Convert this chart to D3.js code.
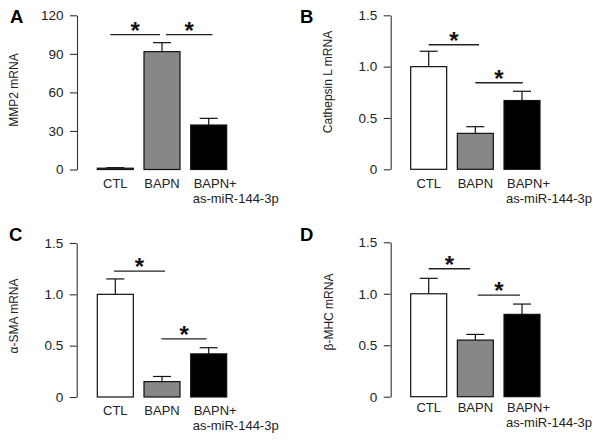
<!DOCTYPE html>
<html><head><meta charset="utf-8">
<script src="https://cdn.jsdelivr.net/npm/d3@7"></script>
<style>body{margin:0;background:#fff} svg{display:block} text{font-family:"Liberation Sans",Arial,sans-serif}</style>
</head><body><svg id="c" width="600" height="443"></svg>
<script>
const categories = ["CTL", "BAPN", "BAPN+"];
const categorySubLabels = ["", "", "as-miR-144-3p"];
const barFills = ["#ffffff", "#878787", "#000000"];

const mmp2Mean = [1.0, 91.7, 34.6];
const mmp2Err = [0.4, 7.0, 5.2];
const cathepsinMean = [1.0, 0.35, 0.67];
const cathepsinErr = [0.15, 0.065, 0.09];
const smaMean = [1.0, 0.15, 0.42];
const smaErr = [0.15, 0.05, 0.06];
const mhcMean = [1.0, 0.55, 0.80];
const mhcErr = [0.15, 0.055, 0.10];

const mmp2Ticks = [0, 30, 60, 90, 120];
const mmp2TickLabels = ["0", "30", "60", "90", "120"];
const ratioTicks = [0, 0.5, 1.0, 1.5];
const ratioTickLabels = ["0", "0.5", "1.0", "1.5"];

// significance brackets: [from category, to category, level]
const mmp2Sig = [[0, 1, 105], [1, 2, 105]];
const cathepsinSig = [[0, 1, 1.213], [1, 2, 0.843]];
const smaSig = [[0, 1, 1.226], [1, 2, 0.566]];
const mhcSig = [[0, 1, 1.243], [1, 2, 0.987]];

const panels = [
  {letter: "A", ylabel: "MMP2 mRNA", mean: mmp2Mean, err: mmp2Err, ticks: mmp2Ticks, tickLabels: mmp2TickLabels, sig: mmp2Sig,
   lx: 10, ly: 23, axisX: 77, y0: 169.5, y1: 15.3, barL: 97.3, barR: 226.7, ylabX: 18, ylabY: 90, xlabY: 188, sigOff: [[-5, -2], [4, 3.7]]},
  {letter: "B", ylabel: "Cathepsin L mRNA", mean: cathepsinMean, err: cathepsinErr, ticks: ratioTicks, tickLabels: ratioTickLabels, sig: cathepsinSig,
   lx: 300, ly: 23, axisX: 390.7, y0: 169.3, y1: 15.3, barL: 410.7, barR: 540, ylabX: 332, ylabY: 82, xlabY: 187.5, sigOff: [[0, 3.7], [0, 0.7]]},
  {letter: "C", ylabel: "\u03b1-SMA mRNA", mean: smaMean, err: smaErr, ticks: ratioTicks, tickLabels: ratioTickLabels, sig: smaSig,
   lx: 9, ly: 241, axisX: 76.7, y0: 397, y1: 243, barL: 97.3, barR: 226.7, ylabX: 18, ylabY: 316, xlabY: 414.5, sigOff: [[-1.3, 3], [-0.6, -2]]},
  {letter: "D", ylabel: "\u03b2-MHC mRNA", mean: mhcMean, err: mhcErr, ticks: ratioTicks, tickLabels: ratioTickLabels, sig: mhcSig,
   lx: 300, ly: 241, axisX: 390.7, y0: 396.7, y1: 242.3, barL: 410.7, barR: 540, ylabX: 333, ylabY: 312, xlabY: 412, sigOff: [[0, -5.3], [2.4, -2]]}
];

const svg = d3.select("#c");

panels.forEach(p => {
  const g = svg.append("g");
  const top = p.ticks[p.ticks.length - 1];
  const y = d3.scaleLinear().domain([0, top]).range([p.y0, p.y1]);
  const x = d3.scaleBand().domain(categories).range([p.barL, p.barR]).paddingInner(0.229).paddingOuter(0);
  const bw = x.bandwidth();

  // panel letter
  g.append("text").attr("x", p.lx).attr("y", p.ly).attr("font-size", 18.5).attr("font-weight", "bold").attr("fill", "#000").text(p.letter);

  // y axis
  const ax = g.append("g").attr("transform", `translate(${p.axisX},0)`)
    .call(d3.axisLeft(y).tickValues(p.ticks).tickFormat((d, i) => p.tickLabels[i]).tickSize(7).tickSizeOuter(0).tickPadding(6.5));
  ax.select(".domain").attr("stroke", "#333").attr("stroke-width", 1.1);
  ax.selectAll(".tick line").attr("stroke", "#333").attr("stroke-width", 1.1);
  ax.selectAll(".tick text").attr("font-size", 13.5).attr("fill", "#222").attr("font-family", "Liberation Sans, Arial, sans-serif");

  // y label
  g.append("text").attr("transform", `translate(${p.ylabX},${p.ylabY}) rotate(-90)`)
    .attr("text-anchor", "middle").attr("font-size", 12).attr("fill", "#222").text(p.ylabel);

  // error bars
  categories.forEach((c, i) => {
    const cx = x(c) + bw / 2;
    const yt = y(p.mean[i]), ye = y(p.mean[i] + p.err[i]);
    g.append("line").attr("x1", cx).attr("x2", cx).attr("y1", yt).attr("y2", ye).attr("stroke", "#111").attr("stroke-width", 1.2);
    g.append("line").attr("x1", cx - bw / 4).attr("x2", cx + bw / 4).attr("y1", ye).attr("y2", ye).attr("stroke", "#111").attr("stroke-width", 1.2);
  });

  // bars
  g.selectAll("rect.bar").data(p.mean).enter().append("rect")
    .attr("x", (d, i) => x(categories[i]))
    .attr("y", d => y(d))
    .attr("width", bw)
    .attr("height", d => y(0) - y(d))
    .attr("fill", (d, i) => barFills[i])
    .attr("stroke", "#111").attr("stroke-width", 1.2);

  // x labels
  categories.forEach((c, i) => {
    if (categorySubLabels[i]) {
      const sx = x(c) + 3;
      g.append("text").attr("x", sx).attr("y", p.xlabY).attr("font-size", 13).attr("fill", "#222").text(c);
      g.append("text").attr("x", sx - 1).attr("y", p.xlabY + 15).attr("font-size", 13).attr("fill", "#222").text(categorySubLabels[i]);
    } else {
      g.append("text").attr("x", x(c) + bw / 2).attr("y", p.xlabY).attr("text-anchor", "middle").attr("font-size", 13).attr("fill", "#222").text(c);
    }
  });

  // significance
  p.sig.forEach((s, k) => {
    const x1 = x(categories[s[0]]) + bw / 2 + p.sigOff[k][0];
    const x2 = x(categories[s[1]]) + bw / 2 + p.sigOff[k][1];
    const yy = y(s[2]);
    g.append("line").attr("x1", x1).attr("x2", x2).attr("y1", yy).attr("y2", yy).attr("stroke", "#222").attr("stroke-width", 1.3);
    g.append("text").attr("x", (x1 + x2) / 2).attr("y", yy + 4).attr("text-anchor", "middle")
      .attr("font-size", 24).attr("font-weight", "bold").attr("fill", "#111").text("*");
  });
});
</script>
</body></html>
